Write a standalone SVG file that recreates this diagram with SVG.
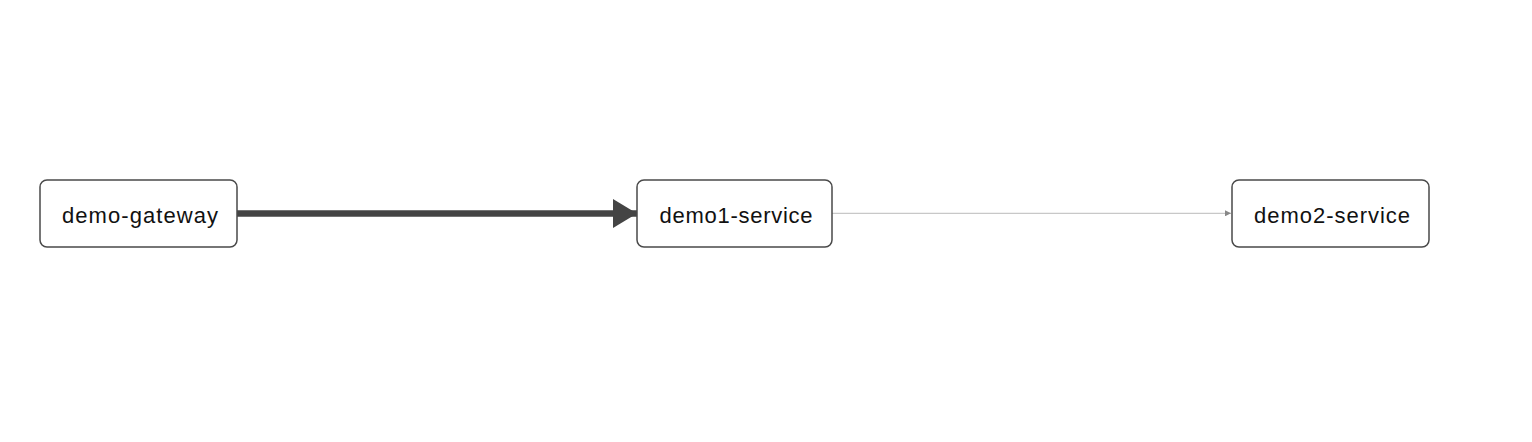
<svg xmlns="http://www.w3.org/2000/svg" width="1532" height="442" viewBox="0 0 1532 442">
<style>
.node rect{fill:#ffffff;stroke:#4a4a4a;stroke-width:1.5}
.node text{font-family:"Liberation Sans",Arial,Helvetica,sans-serif;font-size:22px;fill:#111;text-anchor:middle}
</style>
<defs>
<marker id="big" viewBox="0 0 24 29" refX="24" refY="14.5" markerUnits="userSpaceOnUse" markerWidth="24" markerHeight="29" orient="auto">
<path d="M0,0 L24,14.5 L0,29 Z" fill="#444"/>
</marker>
<marker id="small" viewBox="0 0 6 6" refX="6" refY="3" markerUnits="userSpaceOnUse" markerWidth="6" markerHeight="6" orient="auto">
<path d="M0,0 L6,3 L0,6 Z" fill="#888"/>
</marker>
</defs>
<rect width="1532" height="442" fill="#ffffff"/>
<g id="connectors">
<line x1="237" y1="213.5" x2="637" y2="213.5" stroke="#444" stroke-width="6.5" marker-end="url(#big)"/>
<line x1="832" y1="213.3" x2="1231" y2="213.3" stroke="#bbb" stroke-width="1" marker-end="url(#small)"/>
</g>
<g id="demo-gateway" class="node">
<rect x="40" y="180" width="197" height="67" rx="7"/>
<text x="140" y="223" textLength="156" lengthAdjust="spacing">demo-gateway</text>
</g>
<g id="demo1-service" class="node">
<rect x="637" y="180" width="195" height="67" rx="7"/>
<text x="736" y="223" textLength="153" lengthAdjust="spacing">demo1-service</text>
</g>
<g id="demo2-service" class="node">
<rect x="1232" y="180" width="197" height="67" rx="7"/>
<text x="1332" y="223" textLength="156" lengthAdjust="spacing">demo2-service</text>
</g>
</svg>
